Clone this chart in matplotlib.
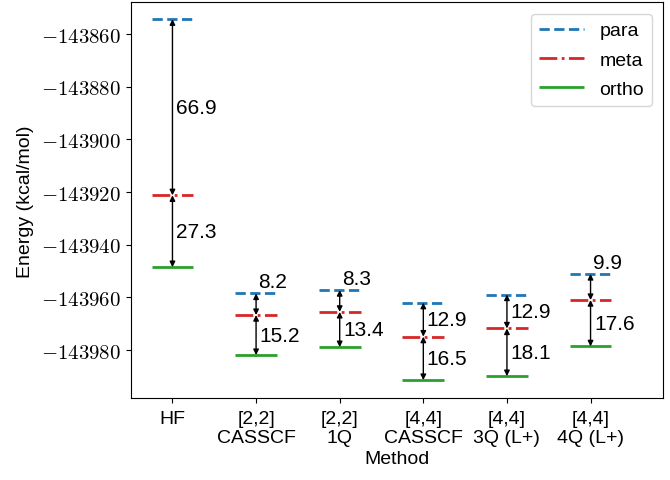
import matplotlib
matplotlib.use("Agg")
import matplotlib.pyplot as plt
import numpy as np
from matplotlib.ticker import FuncFormatter

plt.rcParams['font.family'] = ['Liberation Sans', 'DejaVu Sans']
plt.rcParams['mathtext.fontset'] = 'cm'

methods = ['HF', '[2,2]\nCASSCF', '[2,2]\n1Q', '[4,4]\nCASSCF', '[4,4]\n3Q (L+)', '[4,4]\n4Q (L+)']
para = [-143854.3, -143958.5, -143957.2, -143962.0, -143958.9, -143951.1]
meta = [-143921.2, -143966.7, -143965.5, -143974.9, -143971.8, -143961.0]
ortho = [-143948.5, -143981.9, -143978.9, -143991.4, -143989.9, -143978.6]

fig, ax = plt.subplots(figsize=(6.7, 4.81), dpi=100)
fig.subplots_adjust(left=0.195, right=0.99, top=0.993, bottom=0.17)

x = np.arange(len(methods))
w = 0.25
ax.hlines(para, x - w, x + w, colors='tab:blue', linestyles='--', lw=2, label='para')
ax.hlines(meta, x - w, x + w, colors='tab:red', linestyles='-.', lw=2, label='meta')
ax.hlines(ortho, x - w, x + w, colors='tab:green', linestyles='-', lw=2, label='ortho')

arrow = dict(arrowstyle='<|-|>', color='black', lw=1, mutation_scale=8, shrinkA=0, shrinkB=0)
for i in range(len(methods)):
    d1 = para[i] - meta[i]
    d2 = meta[i] - ortho[i]
    ax.annotate('', xy=(x[i], meta[i]), xytext=(x[i], para[i]), arrowprops=arrow)
    ax.annotate('', xy=(x[i], ortho[i]), xytext=(x[i], meta[i]), arrowprops=arrow)
    if d1 < 10:
        ax.text(x[i] + 0.03, para[i] + 4.5, f'{d1:.1f}', va='center', fontsize=15)
    else:
        ax.text(x[i] + 0.04, (para[i] + meta[i]) / 2, f'{d1:.1f}', va='center', fontsize=15)
    ax.text(x[i] + 0.04, (meta[i] + ortho[i]) / 2, f'{d2:.1f}', va='center', fontsize=15)

ax.set_xticks(x)
ax.set_xticklabels(methods, fontsize=14, linespacing=1.15)
ax.tick_params(axis='x', pad=5)
ax.set_xlim(-0.5, 5.87)
ax.set_ylim(-143998.3, -143847.9)
ax.set_yticks(np.arange(-143980, -143859, 20))
ax.yaxis.set_major_formatter(FuncFormatter(lambda v, p: r'$%d$' % v))
ax.tick_params(axis='y', labelsize=15)
ax.set_xlabel('Method', fontsize=14, labelpad=3)
ax.set_ylabel('Energy (kcal/mol)', fontsize=14, labelpad=5)
ax.legend(loc='upper right', fontsize=14, handlelength=2.3, labelspacing=0.6,
          borderaxespad=0.6)

plt.savefig('out.png', dpi=100)
